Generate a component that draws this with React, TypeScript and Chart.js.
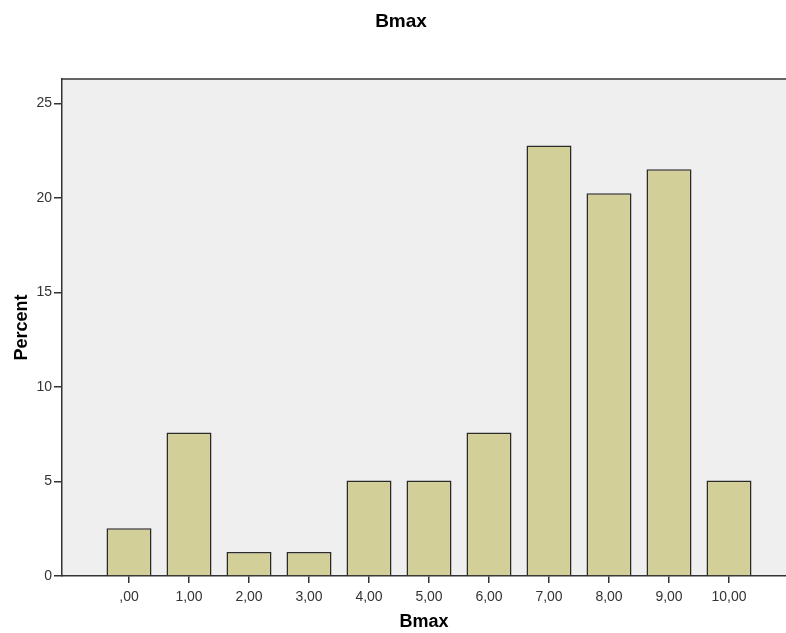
import React, { useEffect, useRef } from "react";
import { Chart, registerables } from "chart.js";

Chart.register(...registerables);

const categoryValues = [0, 1, 2, 3, 4, 5, 6, 7, 8, 9, 10];
const categoryLabels = [",00", "1,00", "2,00", "3,00", "4,00", "5,00", "6,00", "7,00", "8,00", "9,00", "10,00"];
const percentValues = [2.53, 7.59, 1.27, 1.27, 5.06, 5.06, 7.59, 22.78, 20.25, 21.52, 5.06];
const yTickValues = [0, 5, 10, 15, 20, 25];
const chartTitle = "Bmax";
const xAxisTitle = "Bmax";
const yAxisTitle = "Percent";

const FONT = "'Liberation Sans', Arial, sans-serif";

const framePlugin = {
  id: "frame",
  beforeDraw(chart: any) {
    const { ctx, chartArea } = chart;
    ctx.save();
    ctx.fillStyle = "#ffffff";
    ctx.fillRect(0, 0, chart.width, chart.height);
    ctx.fillStyle = "#efefef";
    ctx.fillRect(chartArea.left, chartArea.top, chartArea.right - chartArea.left, chartArea.bottom - chartArea.top);
    ctx.restore();
  },
  afterDraw(chart: any) {
    const { ctx, chartArea } = chart;
    ctx.save();
    ctx.strokeStyle = "#333333";
    ctx.lineWidth = 1.5;
    ctx.beginPath();
    ctx.moveTo(chartArea.left, chartArea.top);
    ctx.lineTo(chartArea.right, chartArea.top);
    ctx.stroke();
    ctx.fillStyle = "#000000";
    ctx.font = `bold 19px ${FONT}`;
    ctx.textAlign = "center";
    ctx.textBaseline = "middle";
    ctx.fillText(chartTitle, 401, 22);
    ctx.restore();
  },
};

export default function App() {
  const ref = useRef<HTMLCanvasElement | null>(null);
  useEffect(() => {
    if (!ref.current) return;
    const chart = new Chart(ref.current, {
      type: "bar",
      data: {
        datasets: [
          {
            data: categoryValues.map((v, i) => ({ x: v, y: percentValues[i] })),
            backgroundColor: "#d3cf98",
            borderColor: "#2b2b2b",
            borderWidth: 1.5,
            categoryPercentage: 1,
            barPercentage: 0.75,
          },
        ],
      },
      options: {
        animation: false,
        responsive: true,
        maintainAspectRatio: false,
        layout: { padding: { top: 79, left: 0, right: 0, bottom: 0 } },
        plugins: { legend: { display: false }, tooltip: { enabled: false }, title: { display: false } },
        scales: {
          x: {
            type: "linear",
            offset: false,
            min: -1.1167,
            max: 10.95,
            afterBuildTicks: (scale: any) => {
              scale.ticks = categoryValues.map((v) => ({ value: v }));
            },
            afterFit: (scale: any) => {
              scale.height = 57;
            },
            grid: { drawOnChartArea: false, drawTicks: true, tickLength: 7, color: "#333333", lineWidth: 1.5, offset: false },
            border: { display: true, color: "#333333", width: 1.5 },
            ticks: {
              color: "#333333",
              font: { family: FONT, size: 14 },
              padding: 6,
              maxRotation: 0,
              autoSkip: false,
              callback: (value: any) => {
                const idx = categoryValues.indexOf(Number(value));
                return idx >= 0 ? categoryLabels[idx] : "";
              },
            },
            title: {
              display: true,
              text: xAxisTitle,
              color: "#000000",
              font: { family: FONT, size: 18, weight: "bold" },
              padding: { top: 0, bottom: 0 },
            },
          },
          y: {
            min: 0,
            max: 26.3,
            afterBuildTicks: (scale: any) => {
              scale.ticks = yTickValues.map((v) => ({ value: v }));
            },
            afterFit: (scale: any) => {
              scale.width = 62;
            },
            grid: { drawOnChartArea: false, drawTicks: true, tickLength: 8, color: "#333333", lineWidth: 1.5 },
            border: { display: true, color: "#333333", width: 1.5 },
            ticks: {
              color: "#333333",
              font: { family: FONT, size: 14 },
              padding: 2,
              callback: (value: any) => String(value),
            },
            title: {
              display: true,
              text: yAxisTitle,
              color: "#000000",
              font: { family: FONT, size: 18, weight: "bold" },
              padding: { top: 11, bottom: 0 },
            },
          },
        },
      } as any,
      plugins: [framePlugin],
    });
    return () => chart.destroy();
  }, []);
  return (
    <div style={{ position: "absolute", left: 0, top: 0, width: 786, height: 633 }}>
      <canvas ref={ref} />
    </div>
  );
}
